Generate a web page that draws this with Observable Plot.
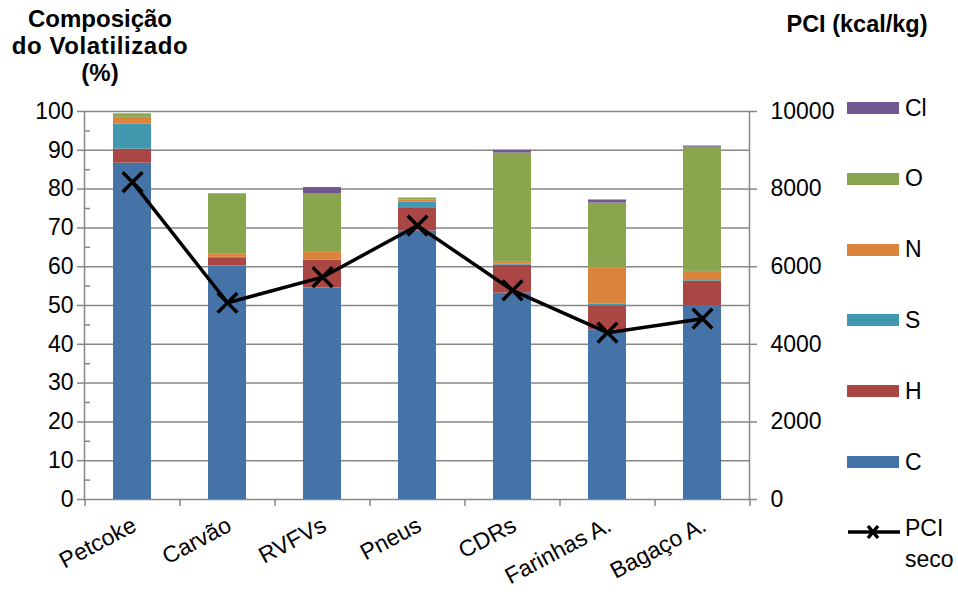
<!DOCTYPE html>
<html>
<head>
<meta charset="utf-8">
<script src="https://cdn.jsdelivr.net/npm/d3@7"></script>
<script src="https://cdn.jsdelivr.net/npm/@observablehq/plot@0.6"></script>
<style>
  html, body { margin: 0; padding: 0; background: #fff; }
  body { width: 958px; height: 594px; position: relative; overflow: hidden; font-family: Arial, "Liberation Sans", sans-serif; color: #000; }
  #chart { position: absolute; left: 0; top: 0; }
  .title { position: absolute; font-weight: bold; font-size: 24px; line-height: 27px; text-align: center; }
  #legend { position: absolute; left: 847px; top: 73px; }
  .item { position: absolute; left: 0; height: 70px; display: flex; align-items: center; font-size: 23px; }
  .sw { width: 52px; height: 12px; margin-right: 6px; }
</style>
</head>
<body>
<div id="chart"></div>
<div class="title" style="left:0px; top:5px; width:200px;">Composição<br><span style="letter-spacing:0.6px">do Volatilizado</span><br>(%)</div>
<div class="title" style="left:767px; top:11px; width:180px; font-size:23.5px;">PCI (kcal/kg)</div>
<div id="legend"></div>
<script>
const categories = ["Petcoke", "Carvão", "RVFVs", "Pneus", "CDRs", "Farinhas A.", "Bagaço A."];
const elements = ["C", "H", "S", "N", "O", "Cl"];
const C  = [86.7, 60.2, 54.5, 69.2, 53.2, 43.7, 50.0];
const H  = [3.6, 2.1, 7.2, 6.0, 7.2, 6.2, 6.2];
const S  = [6.5, 0.1, 0.1, 1.5, 0.3, 0.5, 0.2];
const N  = [1.7, 0.8, 1.9, 0.5, 0.6, 9.3, 2.4];
const O  = [0.9, 15.6, 15.0, 0.5, 28.0, 16.7, 32.0];
const Cl = [0.0, 0.0, 1.7, 0.0, 0.7, 0.8, 0.3];
const pciSeco = [8180, 5070, 5730, 7060, 5390, 4300, 4660];
const colors = ["#4572A7", "#AA4643", "#4198AF", "#DB843D", "#89A54E", "#71588F"];
const leftTicks = [0, 10, 20, 30, 40, 50, 60, 70, 80, 90, 100];
const minorTicks = [5, 15, 25, 35, 45, 55, 65, 75, 85, 95];
const rightTicks = [0, 2000, 4000, 6000, 8000, 10000];
const pciMax = 10000;

const series = {C, H, S, N, O, Cl};
const table = [];
categories.forEach((cat, i) => {
  elements.forEach(el => table.push({cat, element: el, value: series[el][i]}));
});
const pciTable = categories.map((cat, i) => ({cat, pci: pciSeco[i]}));

const W = 958, Hh = 594, mL = 84, mR = 209, mT = 111, mB = 95;
const step = (W - mL - mR) / categories.length;
const gridColor = "#878787";

const plot = Plot.plot({
  width: W,
  height: Hh,
  marginLeft: mL,
  marginRight: mR,
  marginTop: mT,
  marginBottom: mB,
  style: {fontFamily: "Arial, 'Liberation Sans', sans-serif", fontSize: "23px", color: "#000", background: "#fff"},
  x: {domain: categories, paddingInner: 0.6, paddingOuter: 0.3, label: null},
  y: {domain: [0, 100], label: null},
  color: {domain: elements, range: colors},
  marks: [
    Plot.ruleY(leftTicks, {stroke: gridColor, strokeWidth: 1.5}),
    Plot.barY(table, {x: "cat", y: "value", fill: "element", order: elements}),
    Plot.frame({anchor: "left", stroke: gridColor, strokeWidth: 1.5}),
    Plot.frame({anchor: "right", stroke: gridColor, strokeWidth: 1.5}),
    Plot.axisY({ticks: leftTicks, tickSize: 7, tickPadding: 4, stroke: gridColor, strokeWidth: 1.5, fontSize: 23}),
    Plot.axisY({ticks: minorTicks, tickSize: -6, tickPadding: 0, text: null, stroke: gridColor, strokeWidth: 1.5}),
    Plot.axisY({anchor: "right", ticks: rightTicks.map(t => t / pciMax * 100), tickFormat: d => String(Math.round(d * pciMax / 100)), tickSize: 7, tickPadding: 14, textAnchor: "start", stroke: gridColor, strokeWidth: 1.5, fontSize: 23}),
    Plot.axisX({ticks: categories, tickSize: 7, text: null, dx: -step / 2, stroke: gridColor, strokeWidth: 1.5}),
    Plot.axisX({ticks: categories.slice(-1), tickSize: 7, text: null, dx: step / 2, stroke: gridColor, strokeWidth: 1.5}),
    Plot.axisX({tickSize: 0, tickRotate: -28, tickPadding: 24, dx: 2, fontSize: 23}),
    Plot.line(pciTable, {x: "cat", y: d => d.pci / pciMax * 100, stroke: "#000", strokeWidth: 3.5}),
    Plot.dot(pciTable, {x: "cat", y: d => d.pci / pciMax * 100, symbol: "times", r: 9, stroke: "#000", strokeWidth: 3.5})
  ]
});
document.getElementById("chart").appendChild(plot);

// legend (top to bottom: reverse stack order)
const legend = document.getElementById("legend");
const legendItems = elements.slice().reverse();
legendItems.forEach((el, i) => {
  const div = document.createElement("div");
  div.className = "item";
  div.style.top = (i * 70.8) + "px";
  div.innerHTML = `<div class="sw" style="background:${colors[elements.indexOf(el)]}"></div><span>${el}</span>`;
  legend.appendChild(div);
});
const pciItem = document.createElement("div");
pciItem.className = "item";
pciItem.style.top = (6 * 70.8) + "px";
pciItem.style.alignItems = "flex-start";
pciItem.style.paddingTop = "15px";
pciItem.innerHTML = `<svg width="58" height="24" style="margin-top:7px"><line x1="1" y1="12" x2="53" y2="12" stroke="#000" stroke-width="3.5"/><path d="M21,6L31,18M31,6L21,18" stroke="#000" stroke-width="3.5"/></svg><span style="line-height:31px">PCI<br>seco</span>`;
legend.appendChild(pciItem);
</script>
</body>
</html>
